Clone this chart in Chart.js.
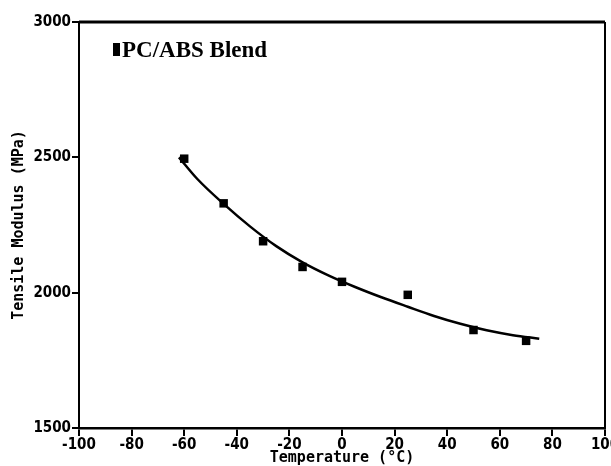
<!DOCTYPE html>
<html>
<head>
<meta charset="utf-8">
<script src="https://cdn.jsdelivr.net/npm/chart.js@4"></script>
<style>
  html, body { margin: 0; padding: 0; background: #fff; }
  #wrap { width: 611px; height: 466px; }
</style>
</head>
<body>
<div id="wrap"><canvas id="modulusChart" width="611" height="466"></canvas></div>
<script>
// measured points
const tempC = [-60, -45, -30, -15, 0, 25, 50, 70];
const modulusMPa = [2495, 2330, 2190, 2095, 2040, 1992, 1862, 1822];

// fitted trend line
const fitTemp = [-62, -55, -45, -35, -25, -15, -5, 5, 15, 25, 35, 45, 55, 65, 75];
const fitModulus = [2500, 2420, 2328, 2245, 2172, 2112, 2063, 2021, 1983, 1948, 1914, 1885, 1861, 1843, 1830];

const xTicks = [-100, -80, -60, -40, -20, 0, 20, 40, 60, 80, 100];
const yTicks = [1500, 2000, 2500, 3000];

const tickFont = { family: "'DejaVu Sans Condensed', 'Liberation Sans Narrow', sans-serif", size: 15, weight: "bold" };
const titleFont = { family: "'DejaVu Sans Mono', monospace", size: 15, weight: "bold", lineHeight: 1 };

// frame on top/right plus the legend entry
const framePlugin = {
  id: "frame",
  afterDraw(chart) {
    const { ctx, chartArea: a } = chart;
    ctx.save();
    ctx.strokeStyle = "#000";
    ctx.lineWidth = 3;
    ctx.beginPath();
    ctx.moveTo(a.left, a.top);
    ctx.lineTo(a.right, a.top);
    ctx.stroke();
    ctx.lineWidth = 2;
    ctx.beginPath();
    ctx.moveTo(a.right, a.top);
    ctx.lineTo(a.right, a.bottom);
    ctx.stroke();

    // legend
    const ds = chart.data.datasets[1];
    ctx.fillStyle = "#000";
    ctx.fillRect(a.left + 34, a.top + 21, 7, 13);
    ctx.font = "bold 23px 'Liberation Serif', 'DejaVu Serif', serif";
    ctx.textBaseline = "alphabetic";
    ctx.fillText(ds.label, a.left + 43, a.top + 35);
    ctx.restore();
  },
};

function fixWidth(w) {
  return function (scale) {
    scale.width = w;
    scale.paddingTop = 0;
    scale.paddingBottom = 0;
  };
}
function fixHeight(h) {
  return function (scale) {
    scale.height = h;
    scale.paddingLeft = 0;
    scale.paddingRight = 0;
  };
}

const ctx = document.getElementById("modulusChart").getContext("2d");
new Chart(ctx, {
  type: "scatter",
  data: {
    datasets: [
      {
        label: "fit",
        data: fitTemp.map((t, i) => ({ x: t, y: fitModulus[i] })),
        showLine: true,
        cubicInterpolationMode: "monotone",
        borderColor: "#000",
        borderWidth: 2.5,
        pointRadius: 0,
        fill: false,
      },
      {
        label: "PC/ABS Blend",
        data: tempC.map((t, i) => ({ x: t, y: modulusMPa[i] })),
        pointStyle: "rect",
        pointRadius: 6,
        backgroundColor: "#000",
        borderColor: "#000",
        borderWidth: 0,
      },
    ],
  },
  options: {
    responsive: false,
    animation: false,
    layout: { padding: { top: 22, right: 6, left: 0, bottom: 0 } },
    plugins: {
      legend: { display: false },
      tooltip: { enabled: false },
    },
    scales: {
      x: {
        type: "linear",
        min: -100,
        max: 100,
        afterFit: fixHeight(38),
        afterBuildTicks: (scale) => { scale.ticks = xTicks.map((v) => ({ value: v })); },
        ticks: {
          color: "#000",
          font: tickFont,
          padding: 0,
          maxRotation: 0,
          callback: (v) => String(v),
        },
        grid: {
          drawOnChartArea: false,
          color: "#000",
          lineWidth: 2,
          tickLength: 8,
        },
        border: { color: "#000", width: 2.5 },
        title: {
          display: true,
          text: "Temperature (°C)",
          color: "#000",
          font: titleFont,
          padding: { top: 0, bottom: 0 },
        },
      },
      y: {
        type: "linear",
        min: 1500,
        max: 3000,
        afterFit: fixWidth(79),
        afterBuildTicks: (scale) => { scale.ticks = yTicks.map((v) => ({ value: v })); },
        ticks: {
          color: "#000",
          font: tickFont,
          padding: 1,
          callback: (v) => String(v),
        },
        grid: {
          drawOnChartArea: false,
          color: "#000",
          lineWidth: 2,
          tickLength: 7,
        },
        border: { color: "#000", width: 2 },
        title: {
          display: true,
          text: "Tensile Modulus (MPa)",
          color: "#000",
          font: titleFont,
          padding: { top: 12, bottom: 0 },
        },
      },
    },
  },
  plugins: [framePlugin],
});
</script>
</body>
</html>
